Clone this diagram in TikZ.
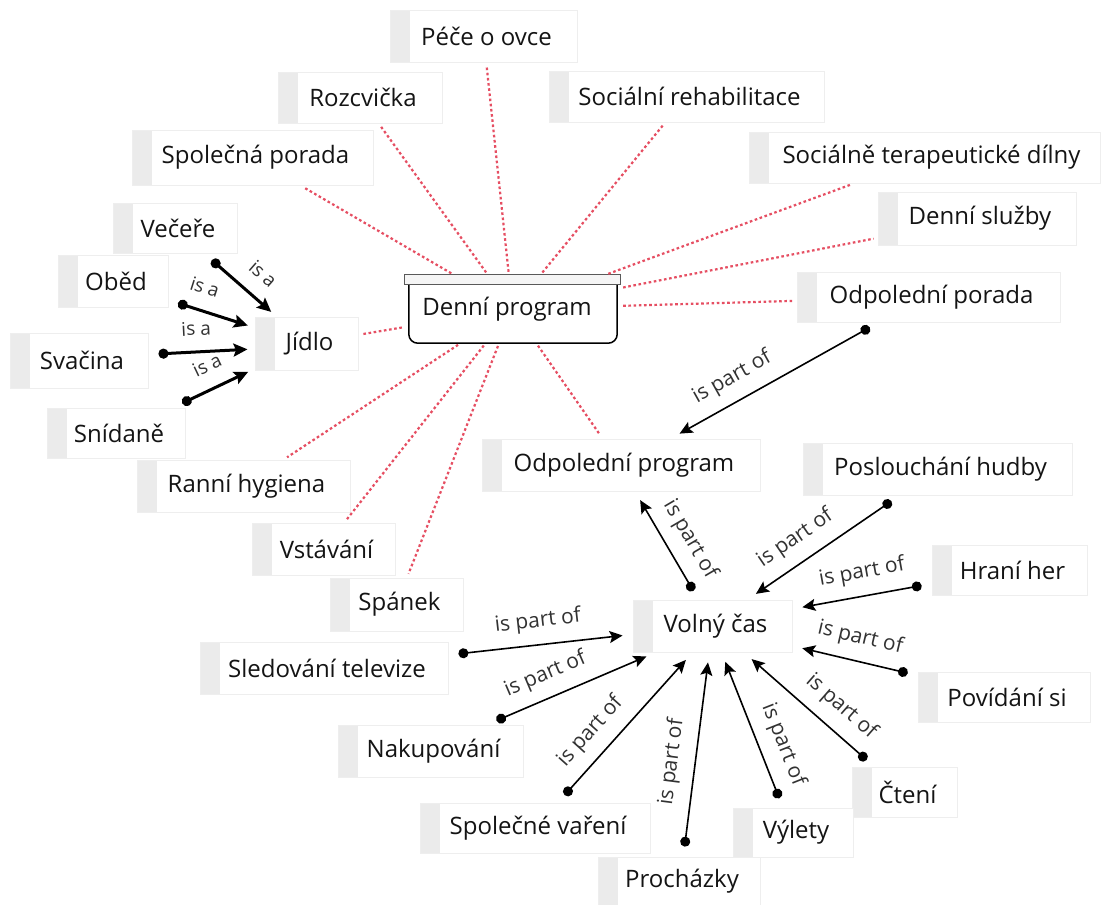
\documentclass[tikz,border=0pt]{standalone}
\usepackage{fontspec}
\setmainfont{Open Sans}
\usetikzlibrary{arrows.meta}

\definecolor{dotred}{RGB}{230,78,98}
\definecolor{strip}{RGB}{235,235,235}
\definecolor{frame}{RGB}{238,238,238}
\definecolor{ink}{RGB}{20,20,20}
\definecolor{labelink}{RGB}{50,50,50}

\begin{document}
\begin{tikzpicture}[x=1pt, y=-1pt,
  concept/.style={rectangle, draw=frame, line width=1pt, fill=white,
    inner sep=0pt, minimum height=52pt,
    font=\fontsize{24}{28}\selectfont, text=ink,
    execute at begin node={\hspace*{6pt}},
    path picture={\fill[strip] (path picture bounding box.north west)
      rectangle ([xshift=20pt]path picture bounding box.south west);}},
  dotline/.style={draw=dotred, line width=2.2pt, dash pattern=on 2.6pt off 2.6pt,
    shorten <=3pt, shorten >=4pt},
  isa/.style={draw=black, line width=3pt,
    {Circle[length=10pt]}-{Stealth[length=14pt,width=13pt,inset=2.5pt]},
    shorten <=10pt, shorten >=7pt},
  partof/.style={draw=black, line width=1.6pt,
    {Circle[length=10pt]}-{Stealth[length=13pt,width=12pt,inset=2.5pt]},
    shorten <=10pt, shorten >=10pt},
  rellabel/.style={sloped, inner sep=1pt, text=labelink,
    font=\fontsize{21}{24}\selectfont},
  partlabel/.style={rellabel, above=11pt},
  isalabel/.style={rellabel, above=14pt, font=\fontsize{19}{22}\selectfont},
]
\fill[white] (0,0) rectangle (1104,905);
\useasboundingbox (0,0) rectangle (1104,905);

% central concept with its lid
\node[inner sep=0pt, minimum width=215pt, minimum height=68pt,
  font=\fontsize{24}{28}\selectfont, text=ink] (dp) at (512.5,309)
  {\hspace*{-11pt}Denní program};
\draw[line width=1.5pt, rounded corners=9pt]
  ([xshift=4pt,yshift=-10pt]dp.north west) -- ([xshift=4pt]dp.south west)
  -- ([xshift=-3pt]dp.south east) -- ([xshift=-3pt,yshift=-10pt]dp.north east);
\draw[fill=black!4, draw=black!65, line width=1pt]
  (dp.north west) rectangle ([yshift=-10pt]dp.north east);

% concepts
\node[concept, minimum width=187pt] (peco)    at (483.5,36.5) {Péče o ovce};
\node[concept, minimum width=164pt, minimum height=51pt] (rozc) at (360,97.5) {Rozcvička};
\node[concept, minimum width=275pt, minimum height=51pt] (socreh) at (686.5,96.5) {Sociální rehabilitace};
\node[concept, minimum width=241pt, minimum height=55pt] (spolpor) at (252.5,157.5) {Společná porada};
\node[concept, minimum width=351pt, minimum height=51pt] (socter) at (924.5,157.5) {\hspace*{8pt}Sociálně terapeutické dílny};
\node[concept, minimum width=124pt, minimum height=50pt] (vecere) at (175,228) {Večeře};
\node[concept, minimum width=198pt, minimum height=53pt] (densl) at (977,218.5) {Denní služby};
\node[concept, minimum width=110pt] (obed)    at (113,281) {Oběd};
\node[concept, minimum width=263pt, minimum height=50pt] (odppor) at (928.5,297) {Odpolední porada};
\node[concept, minimum width=103pt, minimum height=53pt] (jidlo) at (306.5,343.5) {Jídlo};
\node[concept, minimum width=138pt, minimum height=55pt] (svac) at (79,360.5) {Svačina};
\node[concept, minimum width=138pt, minimum height=50pt] (snid) at (116,433) {Snídaně};
\node[concept, minimum width=213pt] (ranni)   at (243.5,486) {Ranní hygiena};
\node[concept, minimum width=278pt] (odpprog) at (621,465) {Odpolední program};
\node[concept, minimum width=269pt] (poslech) at (937.5,469) {Poslouchání hudby};
\node[concept, minimum width=143pt] (vstav)   at (323.5,549) {Vstávání};
\node[concept, minimum width=155pt, minimum height=50pt] (hrani) at (1009.5,570) {Hraní her};
\node[concept, minimum width=133pt, minimum height=53pt] (spanek) at (396.5,604.5) {Spánek};
\node[concept, minimum width=159pt] (volny)   at (712.5,626) {Volný čas};
\node[concept, minimum width=248pt] (sled)    at (324,668) {Sledování televize};
\node[concept, minimum width=172pt, minimum height=50pt] (povid) at (1004,697) {Povídání si};
\node[concept, minimum width=185pt] (nakup)   at (430.5,751) {Nakupování};
\node[concept, minimum width=105pt, minimum height=50pt] (cteni) at (904.5,792) {Čtení};
\node[concept, minimum width=230pt, minimum height=50pt] (spolvar) at (535,828) {Společné vaření};
\node[concept, minimum width=120pt, minimum height=49pt] (vylety) at (793,832.5) {Výlety};
\node[concept, minimum width=162pt, minimum height=48pt] (prochaz) at (679,881) {Procházky};

% activities of the daily programme
\foreach \n in {peco,rozc,socreh,spolpor,socter,densl,odppor,jidlo,ranni,vstav,spanek,odpprog}
  \draw[dotline] (dp) -- (\n);

% kinds of meal
\draw[isa] (vecere.319) -- node[isalabel, pos=.6] {is a} (jidlo.138);
\draw[isa] (obed.341)   -- node[isalabel, pos=.34] {is a} (jidlo.163);
\draw[isa] (svac.5)     -- node[isalabel, pos=.46] {is a} (jidlo.186);
\draw[isa] (snid.24)    -- node[isalabel, pos=.54] {is a} (jidlo.206);

% parts of the afternoon and of free time
\draw[partof] (odppor.207)  -- node[partlabel, pos=.65] {is part of} (odpprog.28);
\draw[partof] (volny.118)   -- node[partlabel, pos=.45] {is part of} (odpprog.298);
\draw[partof] (poslech.215) -- node[partlabel, pos=.6]  {is part of} (volny.37);
\draw[partof] (hrani.190)   -- node[partlabel, pos=.47] {is part of} (volny.12);
\draw[partof] (povid.166)   -- node[partlabel, pos=.5]  {is part of} (volny.346);
\draw[partof] (cteni.140)   -- node[partlabel, pos=.37] {is part of} (volny.320);
\draw[partof] (vylety.112)  -- node[partlabel, pos=.35] {is part of} (volny.289);
\draw[partof] (prochaz.80)  -- node[partlabel, pos=.45] {is part of} (volny.263);
\draw[partof] (spolvar.48)  -- node[partlabel, pos=.37] {is part of} (volny.233);
\draw[partof] (nakup.25)    -- node[partlabel, pos=.4]  {is part of} (volny.205);
\draw[partof] (sled.6)      -- node[partlabel, pos=.5]  {is part of} (volny.186);
\end{tikzpicture}
\end{document}
